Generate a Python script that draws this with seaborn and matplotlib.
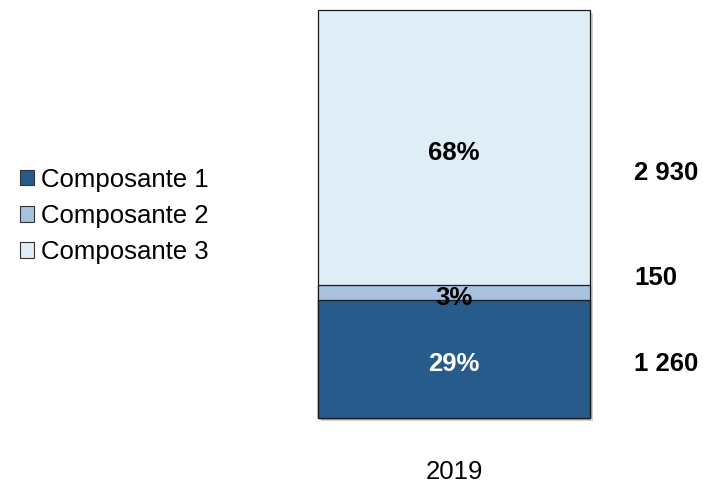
import matplotlib.pyplot as plt
import matplotlib.patheffects as pe
import matplotlib.transforms as mtransforms
from matplotlib.patches import Patch
import numpy as np
import pandas as pd
import seaborn as sns

# Data
year = "2019"
components = ["Composante 1", "Composante 2", "Composante 3"]
values = [1260, 150, 2930]
colors = ["#265B8C", "#A7C1DF", "#DFEDF6"]
pct_colors = ["white", "black", "black"]

sns.set_theme(style="white")
plt.rcParams["font.family"] = ["Liberation Sans", "DejaVu Sans"]
plt.rcParams["text.color"] = "black"
plt.rcParams["xtick.color"] = "black"

total = sum(values)
cum = np.cumsum(values)
df = pd.DataFrame({"year": [year] * 3, "component": components,
                   "value": values, "top": cum})

fig = plt.figure(figsize=(7.03, 4.83), dpi=100)
ax = fig.add_axes([318 / 703, 65 / 483, 272 / 703, 408 / 483])

# stacked bar: draw cumulative totals from the top down
for i in reversed(range(len(components))):
    sns.barplot(data=df.iloc[[i]], x="year", y="top", color=colors[i],
                width=1, saturation=1, edgecolor="#1a1a1a", linewidth=0.9, ax=ax)

for p in ax.patches:
    p.set_clip_on(False)
ax.patches[0].set_path_effects([pe.SimplePatchShadow(offset=(2, -2), alpha=0.25), pe.Normal()])

ax.set_xlim(-0.5, 0.5)
ax.set_ylim(0, total)
ax.set_xlabel("")
ax.set_ylabel("")
ax.set_yticks([])
for s in ax.spines.values():
    s.set_visible(False)
ax.tick_params(axis="x", length=0, pad=30, labelsize=18.5, labelcolor="black")

# percentages inside the bar
mids = cum - np.array(values) / 2
pct_trans = mtransforms.offset_copy(ax.transData, fig=fig, x=0, y=-3, units="dots")
for v, m, c in zip(values, mids, pct_colors):
    ax.text(0, m, f"{round(v / total * 100)}%", transform=pct_trans,
            ha="center", va="center_baseline",
            fontsize=18.5, fontweight="bold", color=c)

# values on the right
trans = mtransforms.blended_transform_factory(ax.transAxes, ax.transData)
label_y = [574, 1489, 2606]
for v, y in zip(values, label_y):
    ax.text(1.162, y, f"{v:,}".replace(",", " "), transform=trans,
            ha="left", va="center", fontsize=18.5, fontweight="bold", color="black")

handles = [Patch(facecolor=c, edgecolor="#333333", linewidth=0.8) for c in colors]
fig.legend(handles, components, loc="center left", bbox_to_anchor=(20 / 703, 0.553),
           frameon=False, fontsize=18.5, handlelength=0.55, handleheight=0.55,
           handletextpad=0.25, labelspacing=0.48, borderpad=0, borderaxespad=0,
           labelcolor="black")

fig.savefig("out.png", dpi=100)
